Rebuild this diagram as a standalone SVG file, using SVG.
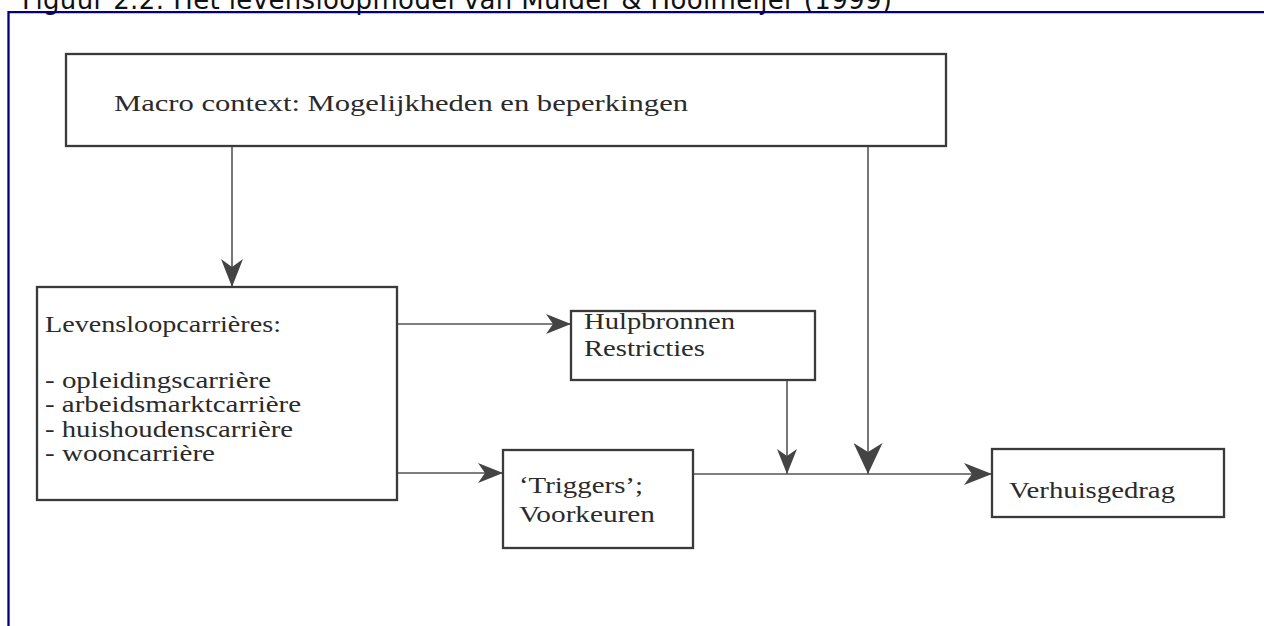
<svg xmlns="http://www.w3.org/2000/svg" width="1264" height="626" viewBox="0 0 1264 626">
<style>
.box{fill:#fff;stroke:#3a3a3a;stroke-width:2.3}
.lbl{font-family:"Liberation Serif",serif;font-size:24px;fill:#2a2a2a}
.con{stroke:#555;stroke-width:1.6;fill:none}
.title{font-family:"DejaVu Sans",sans-serif;font-size:26px;fill:#111}
</style>
<defs>
<marker id="ah" viewBox="0 0 25 20" refX="25" refY="10" markerWidth="25" markerHeight="20" markerUnits="userSpaceOnUse" orient="auto">
<path d="M0,0 L25,10 L0,20 L7,10 z" fill="#444"/>
</marker>
<marker id="ahm" viewBox="0 0 28 22" refX="28" refY="11" markerWidth="28" markerHeight="22" markerUnits="userSpaceOnUse" orient="auto">
<path d="M0,0 L28,11 L0,22 L8,11 z" fill="#444"/>
</marker>
<marker id="ahb" viewBox="0 0 31 29" refX="31" refY="14.5" markerWidth="31" markerHeight="29" markerUnits="userSpaceOnUse" orient="auto">
<path d="M0,0 L31,14.5 L0,29 L9,14.5 z" fill="#444"/>
</marker>
</defs>
<rect x="0" y="0" width="1264" height="626" fill="#fff"/>
<text class="title" x="22" y="9" textLength="870" lengthAdjust="spacing">Figuur 2.2: Het levensloopmodel van Mulder &amp; Hooimeijer (1999)</text>
<path d="M8.5,626 V12.2 H1264" fill="none" stroke="#000080" stroke-width="2.3"/>
<g id="connectors">
<path class="con" d="M232,146 V287" marker-end="url(#ahm)"/>
<path class="con" d="M397,324 H571" marker-end="url(#ah)"/>
<path class="con" d="M397,473 H503" marker-end="url(#ah)"/>
<path class="con" d="M693,474 H992" marker-end="url(#ahm)"/>
<path class="con" d="M787,380 V474" marker-end="url(#ah)"/>
<path class="con" d="M868,146 V474" marker-end="url(#ahb)"/>
</g>
<g id="macro">
<rect class="box" x="66" y="54" width="880" height="92"/>
<text class="lbl" x="114" y="111" textLength="574" lengthAdjust="spacingAndGlyphs">Macro context: Mogelijkheden en beperkingen</text>
</g>
<g id="levensloop">
<rect class="box" x="37" y="287" width="360" height="213"/>
<text class="lbl" x="45" y="332" textLength="236" lengthAdjust="spacingAndGlyphs">Levensloopcarrières:</text>
<text class="lbl" x="45" y="388" textLength="226" lengthAdjust="spacingAndGlyphs">- opleidingscarrière</text>
<text class="lbl" x="45" y="412" textLength="256" lengthAdjust="spacingAndGlyphs">- arbeidsmarktcarrière</text>
<text class="lbl" x="45" y="437" textLength="248" lengthAdjust="spacingAndGlyphs">- huishoudenscarrière</text>
<text class="lbl" x="45" y="461" textLength="170" lengthAdjust="spacingAndGlyphs">- wooncarrière</text>
</g>
<g id="hulpbronnen">
<rect class="box" x="571" y="311" width="244" height="69"/>
<text class="lbl" x="584" y="329" textLength="151" lengthAdjust="spacingAndGlyphs">Hulpbronnen</text>
<text class="lbl" x="584" y="356" textLength="121" lengthAdjust="spacingAndGlyphs">Restricties</text>
</g>
<g id="triggers">
<rect class="box" x="503" y="450" width="190" height="98"/>
<text class="lbl" x="519" y="493" textLength="124" lengthAdjust="spacingAndGlyphs">‘Triggers’;</text>
<text class="lbl" x="519" y="522" textLength="136" lengthAdjust="spacingAndGlyphs">Voorkeuren</text>
</g>
<g id="verhuisgedrag">
<rect class="box" x="992" y="449" width="232" height="68"/>
<text class="lbl" x="1009" y="498" textLength="166" lengthAdjust="spacingAndGlyphs">Verhuisgedrag</text>
</g>
</svg>
